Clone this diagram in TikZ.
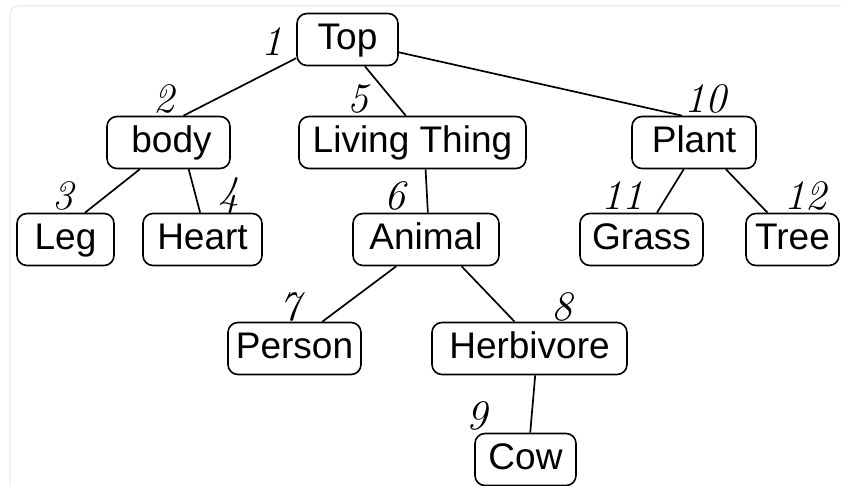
\documentclass[tikz,border=0pt]{standalone}
\usepackage{fontspec}
\setmainfont{Latin Modern Roman}
\newfontfamily\boxfont{Liberation Sans}
\begin{document}
\begin{tikzpicture}[x=1pt,y=-1pt,
  tnode/.style={draw=black,line width=1.6pt,rounded corners=10pt,inner sep=0pt,
    minimum height=52pt,text height=28pt,text depth=8pt,
    font=\boxfont\fontsize{37}{44}\selectfont},
  num/.style={inner sep=0pt,font=\itshape\fontsize{42}{48}\selectfont},
  edge/.style={line width=1.7pt}]
\useasboundingbox (0,0) rectangle (841,486);
\draw[black!10,line width=1pt,rounded corners=8pt] (10,6) rectangle (880,520);
% nodes
\node[tnode,minimum width=101pt] (top) at (347.5,39.5) {Top};
\node[tnode,minimum width=123pt] (body) at (168.5,142.5) {\hspace{6pt}body};
\node[tnode,minimum width=227pt] (living) at (412.5,142.5) {Living Thing};
\node[tnode,minimum width=124pt] (plant) at (694,142.5) {Plant};
\node[tnode,minimum width=97pt] (leg) at (65.5,239.5) {Leg};
\node[tnode,minimum width=119pt] (heart) at (202.5,239.5) {Heart};
\node[tnode,minimum width=146pt] (animal) at (426,239.5) {Animal};
\node[tnode,minimum width=123pt] (grass) at (641.5,239.5) {Grass};
\node[tnode,minimum width=93pt] (tree) at (792.5,239.5) {Tree};
\node[tnode,minimum width=133pt] (person) at (294.5,348.5) {Person};
\node[tnode,minimum width=195pt] (herb) at (529.5,348.5) {Herbivore\hspace{4pt}};
\node[tnode,minimum width=101pt] (cow) at (525.5,459.5) {Cow};
% numbers
\node[num] (n1) at (272,42) {1};
\node[num] (n2) at (164,99) {2};
\node[num] (n5) at (358,99) {5};
\node[num] (n10) at (705,99) {10};
\node[num] (n3) at (63,196) {3};
\node[num] (n4) at (229,196) {4};
\node[num] (n6) at (395,196) {6};
\node[num] (n11) at (622,196) {11};
\node[num] (n12) at (805,196) {12};
\node[num] (n7) at (290,307) {7};
\node[num] (n8) at (562,307) {8};
\node[num] (n9) at (477,416) {9};
% edges
\draw[edge] (top.200) -- (body.61);
\draw[edge] (top.303) -- (living.104);
\draw[edge] (top.346) -- (plant.114);
\draw[edge] (body.223) -- (leg.54);
\draw[edge] (body.307) -- (heart.95);
\draw[edge] (living.296) -- (animal.86);
\draw[edge] (animal.222) -- (person.44);
\draw[edge] (animal.323) -- (herb.119);
\draw[edge] (plant.249) -- (grass.60);
\draw[edge] (plant.320) -- (tree.133);
\draw[edge] (herb.282) -- (cow.80);
\end{tikzpicture}
\end{document}
